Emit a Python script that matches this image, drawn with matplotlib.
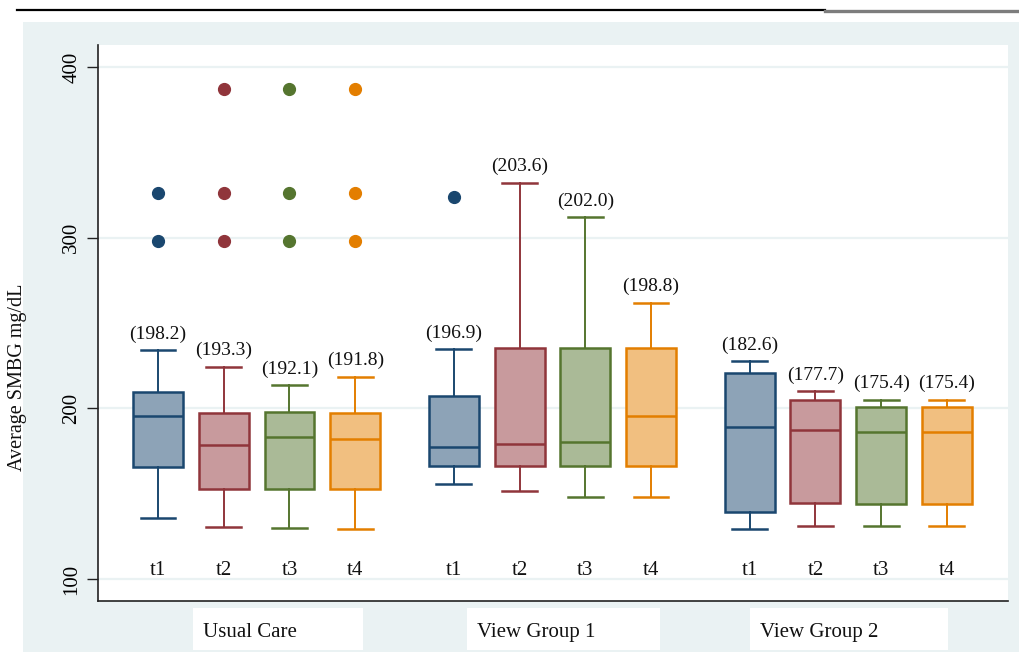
import matplotlib
matplotlib.use("Agg")
import matplotlib.pyplot as plt
from matplotlib.patches import Rectangle
from matplotlib.lines import Line2D
from matplotlib.colors import to_rgb

plt.rcParams['font.family'] = ['Liberation Serif', 'DejaVu Serif']

# ---- data -------------------------------------------------------------
groups = ["Usual Care", "View Group 1", "View Group 2"]
times = ["t1", "t2", "t3", "t4"]

# mean SMBG shown above each box
means = [[198.2, 193.3, 192.1, 191.8],
         [196.9, 203.6, 202.0, 198.8],
         [182.6, 177.7, 175.4, 175.4]]

medians = [[195.7, 178.5, 183.0, 182.0],
           [177.5, 179.1, 180.1, 195.3],
           [189.1, 187.5, 186.3, 186.3]]
q1 = [[165.8, 152.7, 152.7, 152.7],
      [166.4, 166.4, 166.4, 166.4],
      [139.1, 144.7, 143.8, 143.8]]
q3 = [[209.7, 197.1, 198.0, 197.4],
      [207.2, 235.2, 235.2, 235.2],
      [220.9, 205.1, 200.6, 200.6]]
whisker_low = [[135.6, 130.6, 130.1, 129.3],
               [155.5, 151.6, 147.9, 147.9],
               [129.3, 131.1, 131.1, 131.1]]
whisker_high = [[234.0, 224.4, 213.7, 218.5],
                [234.8, 332.2, 311.9, 261.9],
                [227.7, 210.0, 205.1, 205.1]]
outliers = [[[326.0, 298.0], [386.9, 326.0, 298.0], [386.9, 326.0, 298.0], [386.9, 326.0, 298.0]],
            [[323.6], [], [], []],
            [[], [], [], []]]

# ---- style ------------------------------------------------------------
edge_colors = ["#1A476F", "#90353B", "#55752F", "#E37E00"]
BG = "#EAF2F3"
W, H = 1020, 652


def lighten(c, f=0.5):
    r, g, b = to_rgb(c)
    return (r + (1 - r) * f, g + (1 - g) * f, b + (1 - b) * f)


fig = plt.figure(figsize=(W / 100, H / 100), dpi=100)
fig.patch.set_facecolor("white")

# outer graph region
fig.patches.append(Rectangle((23 / W, 0), 1 - 23 / W, 1 - 22 / H,
                             transform=fig.transFigure, facecolor=BG,
                             edgecolor="none", zorder=-5))
# rule across the top
fig.add_artist(Line2D([17 / W, 825 / W], [1 - 10 / H] * 2, color="black", lw=1.6))
fig.add_artist(Line2D([825 / W, 1.0], [1 - 10.5 / H] * 2, color="#7d7d7d", lw=2.4))

ax = fig.add_axes([98 / W, 51 / H, 910 / W, 556 / H])
ax.set_facecolor("white")
ax.set_zorder(1)

gap = 4.5
for g in range(len(groups)):
    for i in range(len(times)):
        pos = g * gap + i
        col = edge_colors[i]
        stats = [dict(med=medians[g][i], q1=q1[g][i], q3=q3[g][i],
                      whislo=whisker_low[g][i], whishi=whisker_high[g][i],
                      fliers=outliers[g][i])]
        ax.bxp(stats, positions=[pos], widths=0.76, capwidths=0.53,
               patch_artist=True, manage_ticks=False,
               boxprops=dict(facecolor=lighten(col), edgecolor=col, linewidth=1.8),
               medianprops=dict(color=col, linewidth=1.8),
               whiskerprops=dict(color=col, linewidth=1.4),
               capprops=dict(color=col, linewidth=1.8),
               flierprops=dict(marker="o", markerfacecolor=col,
                               markeredgecolor=col, markersize=8.5))
        ax.annotate(f"({means[g][i]:.1f})", (pos, whisker_high[g][i]),
                    xytext=(0, 11.5), textcoords="offset points",
                    ha="center", va="center", fontsize=14, color="#111111")
        ax.text(pos, 105, times[i], ha="center", va="center",
                fontsize=15, color="#111111")

ax.set_xlim(-0.913, 12.93)
ax.set_ylim(87.1, 412.9)
ax.set_xticks([])
ax.set_yticks([100, 200, 300, 400])
ax.set_yticklabels(["100", "200", "300", "400"], rotation=90, va="center",
                   fontsize=15)
ax.tick_params(axis="y", length=8, width=1, color="#222222", pad=4)
ax.yaxis.grid(True, color=BG, linewidth=1.6)
ax.set_axisbelow(True)
for s in ["top", "right"]:
    ax.spines[s].set_visible(False)
for s in ["left", "bottom"]:
    ax.spines[s].set_color("#222222")
    ax.spines[s].set_linewidth(1.2)

fig.text(18 / W, 1 - 377 / H, "Average SMBG mg/dL", rotation=90,
         ha="center", va="center", fontsize=14.5, color="#111111")

# group captions under the plot
label_boxes = [(193, 363), (467, 660), (750, 948)]
for name, (x0, x1) in zip(groups, label_boxes):
    fig.patches.append(Rectangle((x0 / W, 1 - 650 / H), (x1 - x0) / W, 42 / H,
                                 transform=fig.transFigure, facecolor="white",
                                 edgecolor="none", zorder=-4))
    fig.text((x0 + 10) / W, 1 - 637 / H, name, ha="left", va="baseline",
             fontsize=15, color="#111111")

fig.savefig("out.png", dpi=100)
